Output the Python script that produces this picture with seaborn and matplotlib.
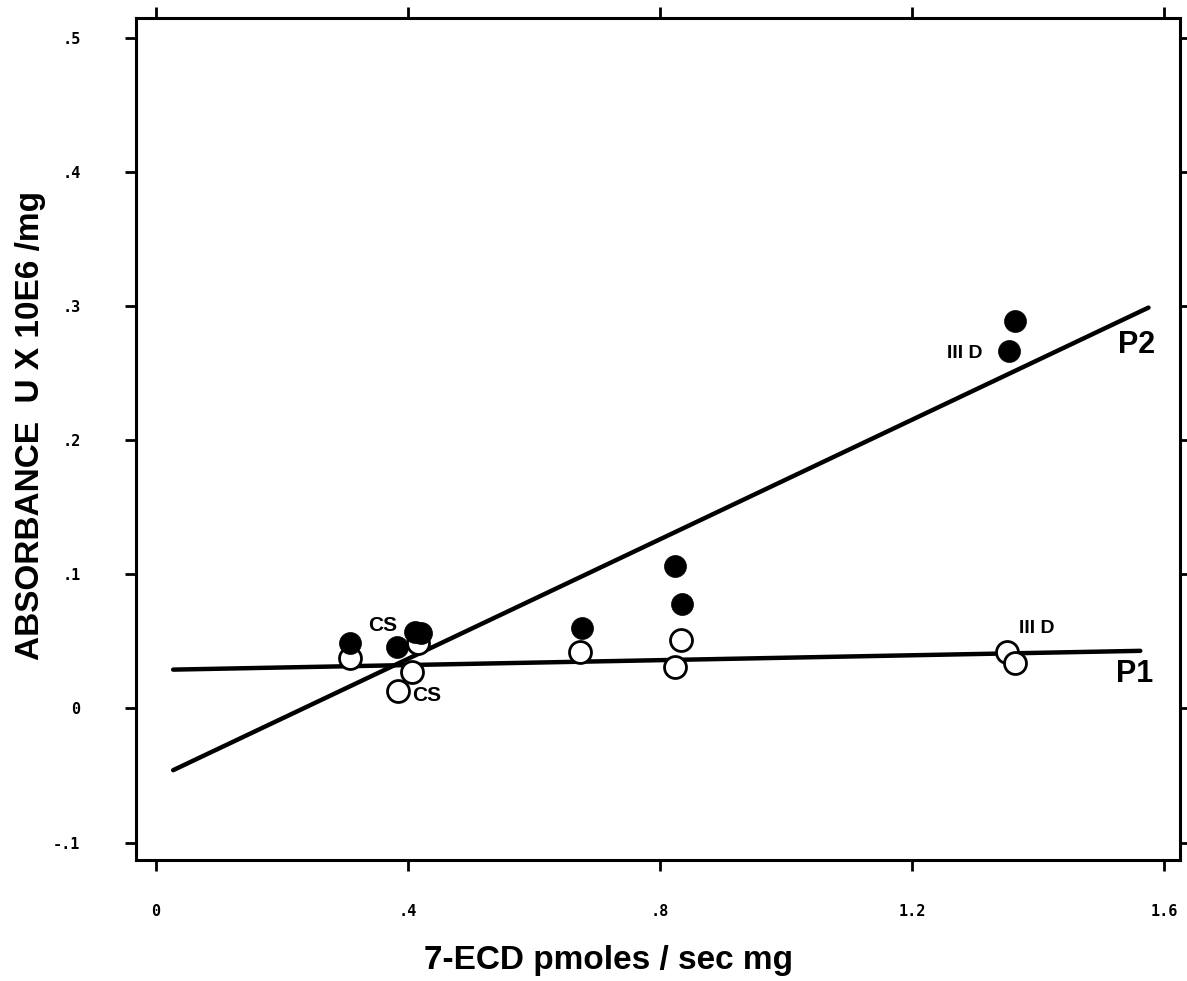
import matplotlib
matplotlib.use("Agg")
import matplotlib.pyplot as plt
import seaborn as sns
import pandas as pd

# ---- data ----
p2_x = [0.308, 0.383, 0.411, 0.420, 0.676, 0.824, 0.835, 1.354, 1.363]   # filled circles
p2_y = [0.049, 0.046, 0.057, 0.056, 0.060, 0.106, 0.078, 0.267, 0.289]
p1_x = [0.308, 0.384, 0.406, 0.416, 0.673, 0.824, 0.833, 1.351, 1.363]   # open circles
p1_y = [0.038, 0.013, 0.027, 0.049, 0.042, 0.031, 0.051, 0.042, 0.034]

p2_line_x = [0.027, 1.575]
p2_line_y = [-0.046, 0.299]
p1_line_x = [0.027, 1.562]
p1_line_y = [0.029, 0.043]

x_ticks = [0, 0.4, 0.8, 1.2, 1.6]
x_tick_labels = ["0", ".4", ".8", "1.2", "1.6"]
y_ticks = [-0.1, 0, 0.1, 0.2, 0.3, 0.4, 0.5]
y_tick_labels = ["-.1", "0", ".1", ".2", ".3", ".4", ".5"]

annotations = [("CS", 0.359, 0.062, 15), ("CS", 0.430, 0.010, 15),
               ("III D", 1.284, 0.265, 14), ("III D", 1.398, 0.060, 14),
               ("P2", 1.556, 0.271, 22), ("P1", 1.553, 0.026, 22)]

x_label = "7-ECD pmoles / sec mg"
y_label = "ABSORBANCE  U X 10E6 /mg"

# ---- plotting ----
sns.set_style("ticks")
plt.rcParams["font.family"] = ["Liberation Sans", "DejaVu Sans"]
plt.rcParams["text.color"] = "black"
plt.rcParams["axes.labelcolor"] = "black"
plt.rcParams["xtick.color"] = "black"
plt.rcParams["ytick.color"] = "black"

fig = plt.figure(figsize=(11.87, 9.81), dpi=100)
ax = fig.add_axes([136 / 1187, 1 - 860 / 981, (1180 - 136) / 1187, (860 - 18) / 981])

df_p2 = pd.DataFrame({"x": p2_x, "y": p2_y})
df_p1 = pd.DataFrame({"x": p1_x, "y": p1_y})
df_l2 = pd.DataFrame({"x": p2_line_x, "y": p2_line_y})
df_l1 = pd.DataFrame({"x": p1_line_x, "y": p1_line_y})

sns.lineplot(data=df_l2, x="x", y="y", ax=ax, color="black", linewidth=3.2, zorder=2)
sns.lineplot(data=df_l1, x="x", y="y", ax=ax, color="black", linewidth=3.2, zorder=2)
sns.scatterplot(data=df_p1, x="x", y="y", ax=ax, s=250, facecolor="white",
                edgecolor="black", linewidth=2.0, zorder=3)
sns.scatterplot(data=df_p2, x="x", y="y", ax=ax, s=250, color="black",
                edgecolor="black", linewidth=0.5, zorder=4)

for txt, x, y, fs in annotations:
    ax.text(x, y, txt, ha="center", va="center", fontsize=fs, fontweight="bold",
            color="black", zorder=5)

ax.set_xlim(-0.032, 1.625)
ax.set_ylim(-0.113, 0.515)

ax.set_xticks(x_ticks)
ax.set_xticklabels(x_tick_labels)
ax.set_yticks(y_ticks)
ax.set_yticklabels(y_tick_labels)

ax.tick_params(axis="both", which="major", direction="out", length=8, width=2.0,
               top=True, right=True, labeltop=False, labelright=False, color="black")
ax.tick_params(axis="x", pad=24)
ax.tick_params(axis="y", pad=32)
for lab in ax.get_xticklabels() + ax.get_yticklabels():
    lab.set_family("DejaVu Sans Mono")
    lab.set_fontweight("bold")
    lab.set_fontsize(11)
    lab.set_color("black")

for sp in ax.spines.values():
    sp.set_visible(True)
    sp.set_linewidth(2.2)
    sp.set_color("black")

ax.set_xlabel(x_label, fontsize=24, fontweight="bold", color="black")
ax.set_ylabel(y_label, fontsize=24, fontweight="bold", color="black")
ax.xaxis.set_label_coords((608 - 136) / (1180 - 136), -(945 - 860) / (860 - 18))
ax.yaxis.set_label_coords(-(136 - 46) / (1180 - 136), (860 - 426) / (860 - 18))

fig.savefig("out.png", dpi=100, facecolor="white")
